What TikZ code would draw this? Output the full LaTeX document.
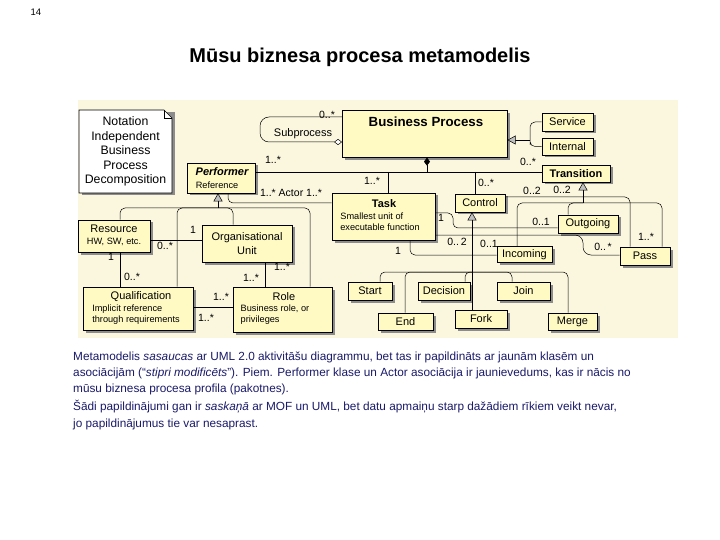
\documentclass[tikz,border=0pt]{standalone}
\usepackage{fontspec}
\setmainfont{Liberation Sans}
\usetikzlibrary{shadows,arrows.meta,calc}
\definecolor{bg}{HTML}{FBF7DF}
\definecolor{boxf}{HTML}{FFFAC4}
\definecolor{txtb}{HTML}{1A1A6A}
\tikzset{
  box/.style={draw=black,fill=boxf,line width=0.6pt,inner sep=0pt,font=\fontsize{11}{12}\selectfont,
     drop shadow={shadow xshift=2.5pt,shadow yshift=-2.5pt,fill=black!45,opacity=1},align=center},
  ln/.style={line width=0.5pt,rounded corners=5pt},
  lb/.style={font=\fontsize{10.5}{12}\selectfont,inner sep=0pt},
  sm/.style={font=\fontsize{9.2}{11}\selectfont,align=left},
  gen/.style={-{Triangle[open,fill=black!25,length=8pt,width=9pt]}},
}
\begin{document}
\begin{tikzpicture}[x=1pt,y=-1pt]
\useasboundingbox (0,0) rectangle (720,540);
\fill[white] (0,0) rectangle (720,540);
\node[font=\fontsize{9.5}{10}\selectfont] (pg) at (36,12) {14};
\node[font=\bfseries\fontsize{20}{22}\selectfont] (title) at (360,57) {Mūsu biznesa procesa metamodelis};
\fill[bg] (78,100) rectangle (678,338);
% note
\fill[black!45] (81.5,112.5) -- (174.5,112.5) -- (174.5,195.5) -- (81.5,195.5) -- cycle;
\filldraw[fill=white,draw=black,line width=0.6pt] (79,110) -- (164,110) -- (172,118) -- (172,193) -- (79,193) -- cycle;
\draw[line width=0.5pt] (164,110) -- (164,118) -- (172,118);
\node[font=\fontsize{12.3}{14.5}\selectfont,align=center] (note) at (125.5,151.5) {Notation\\Independent\\Business\\Process\\Decomposition};
% boxes
\node[box,minimum width=165pt,minimum height=47pt,anchor=north west] (bp) at (342,110) {};
\node[font=\bfseries\fontsize{13.3}{14}\selectfont] at (426,122) {Business Process};
\node[box,minimum width=51pt,minimum height=18pt] (serv) at (567.5,122) {Service};
\node[box,minimum width=51pt,minimum height=17pt] (int) at (567.5,146.5) {Internal};
\node[box,minimum width=68pt,minimum height=17pt,font=\bfseries\fontsize{11}{12}\selectfont] (trans) at (576,173.5) {Transition};
\node[box,minimum width=68pt,minimum height=30pt] (perf) at (221,178) {};
\node[font=\bfseries\itshape\fontsize{11}{12}\selectfont] at (222,172) {Performer};
\node[font=\fontsize{9.2}{11}\selectfont] at (217,185) {Reference};
\node[box,minimum width=103pt,minimum height=47pt] (task) at (383.5,216.5) {};
\node[font=\bfseries\fontsize{11}{12}\selectfont] at (384,204) {Task};
\node[sm] at (380,222) {Smallest unit of\\executable function};
\node[box,minimum width=50pt,minimum height=18pt] (ctrl) at (480,203) {Control};
\node[box,minimum width=60pt,minimum height=18pt] (out) at (588,224) {Outgoing};
\node[box,minimum width=55pt,minimum height=16pt] (inc) at (524.5,254.5) {Incoming};
\node[box,minimum width=50pt,minimum height=18pt] (pass) at (645,256) {Pass};
\node[box,minimum width=44pt,minimum height=18pt] (start) at (370,291) {Start};
\node[box,minimum width=52pt,minimum height=18pt] (dec) at (444,291) {Decision};
\node[box,minimum width=53pt,minimum height=18pt] (join) at (523.5,291) {Join};
\node[box,minimum width=55pt,minimum height=17pt] (end) at (405.5,321.5) {End};
\node[box,minimum width=52pt,minimum height=18pt] (fork) at (481,319) {Fork};
\node[box,minimum width=49pt,minimum height=17pt] (merge) at (572.5,321.5) {Merge};
\node[box,minimum width=72pt,minimum height=32pt] (res) at (114,236) {};
\node[font=\fontsize{11}{12}\selectfont] at (114,229) {Resource};
\node[font=\fontsize{9.2}{11}\selectfont] at (114,242) {HW, SW, etc.};
\node[box,minimum width=90pt,minimum height=37pt,font=\fontsize{11}{14}\selectfont] (org) at (247,243.5) {Organisational\\Unit};
\node[box,minimum width=110pt,minimum height=43pt] (qual) at (138,308.5) {};
\node[font=\fontsize{11}{12}\selectfont] at (141,297) {Qualification};
\node[sm] at (136,315) {Implicit reference\\through requirements};
\node[box,minimum width=99pt,minimum height=45pt] (role) at (282.5,309.5) {};
\node[font=\fontsize{11}{12}\selectfont] at (284,297) {Role};
\node[sm] at (275,315) {Business role, or\\privileges};
% subprocess loop
\coordinate (sp1) at (342,117);
\draw[ln,rounded corners=9pt,-{Diamond[open,fill=white,length=8pt,width=6pt]}] (sp1) -- (260,117) -- (260,142) -- (342,142);
\node[lb] at (327,115) {0..*};
\node[font=\fontsize{11}{12}\selectfont,inner sep=1pt] (subp) at (303,134) {Subprocess};
% generalisation of BP
\coordinate (bpg) at (530,140);
\draw[ln] (serv.west) -| (bpg) |- (int.west);
\draw[ln,gen] (bpg) -- (bp.east|-bpg);
% composition
\coordinate (cd) at (427,172);
\draw[ln,-{Diamond[fill=black,length=8pt,width=6pt]}] (cd) -- (bp.south-|cd);
\draw[ln] (perf.east|-cd) -- (trans.west|-cd);
\draw[ln] (388,172) -- (task.north-|388,0);
\draw[ln] (475,172) -- (ctrl.north-|475,0);
\node[lb] at (273,160) {1..*};
\node[lb] at (372,181) {1..*};
\node[lb] at (486,183) {0..*};
\node[lb] at (528,162) {0..*};
\node[lb] at (532,191) {0..2};
% actor
\draw[ln] (perf.south-|228,0) |- (task.west|-0,203);
\node[lb] at (291,193) {1..* Actor 1..*};
% performer generalization
\coordinate (pg0) at (218,208);
\draw[ln] (res.north-|120,0) |- (pg0) -| (role.north-|310,0);
\draw[ln] (qual.north-|177,0) |- (pg0);
\draw[ln] (org.north-|233,0) |- (pg0);
\draw[ln,gen] (pg0) -- (perf.south-|pg0);
% resource-org
\draw[ln] (res.east|-0,240) -- (org.west|-0,240);
\node[lb] at (193,230) {1};
\node[lb] at (165,246) {0..*};
\draw[ln] (res.south-|120,0) -- (qual.north-|120,0);
\node[lb] at (111,257) {1};
\node[lb] at (132,277) {0..*};
\draw[ln] (org.south-|265,0) -- (role.north-|265,0);
\node[lb] at (282,267) {1..*};
\node[lb] at (251,278) {1..*};
\draw[ln] (qual.east|-0,307) -- (role.west|-0,307);
\node[lb] at (221,297) {1..*};
\node[lb] at (206,318) {1..*};
% transition generalization
\coordinate (tg) at (583,203);
\draw[ln] (inc.north-|517,0) |- (tg) -| (pass.north-|662,0);
\draw[ln] (out.north-|568,0) |- (tg);
\draw[ln,gen] (tg) -- (trans.south-|tg);
% control-pass
\draw[ln] (ctrl.east|-0,197) -| (pass.north-|630,0);
\node[lb] at (562,190) {0..2};
\node[lb] at (646,237) {1..*};
% task-outgoing
\draw[ln] (task.east|-0,213) -| (453,228) -- (out.west|-0,228);
\node[lb] at (441,218) {1};
\node[lb] at (541,222) {0..1};
% task-pass
\draw[ln,rounded corners=8pt] (task.east|-0,235) -| (583,255) -- (pass.west|-0,255);
\node[lb] at (603,247) {0..\,*};
% task-incoming
\draw[ln] (task.south-|410,0) |- (inc.west|-0,255);
\node[lb] at (398,251) {1};
\node[lb] at (457,242) {0..\,2};
\node[lb] at (489,244) {0..1};
% control generalization
\coordinate (cg) at (472,272);
\draw[ln] (start.north-|380,0) |- (cg) -| (merge.north-|568,0);
\draw[ln] (end.north-|405,0) |- (cg);
\draw[ln] (dec.north-|465,0) |- (cg);
\draw[ln] (join.north-|512,0) |- (cg);
\draw[ln] (fork.north-|472,0) -- (cg);
\draw[ln,gen] (cg) -- (ctrl.south-|cg);
% caption
\begin{scope}[every node/.style={anchor=west,text=txtb,font=\fontsize{11.8}{13}\selectfont,inner sep=0pt}]
\node (c1) at (73,357) {Metamodelis \textit{sasaucas} ar UML 2.0 aktivitāšu diagrammu, bet tas ir papildināts ar jaunām klasēm un};
\node (c2) at (73,373) {asociācijām (“\textit{stipri modificēts}”). Piem. Performer klase un Actor asociācija ir jaunievedums, kas ir nācis no};
\node (c3) at (73,389) {mūsu biznesa procesa profila (pakotnes).};
\node (c4) at (73,407) {Šādi papildinājumi gan ir \textit{saskaņā} ar MOF un UML, bet datu apmaiņu starp dažādiem rīkiem veikt nevar,};
\node (c5) at (73,424) {jo papildinājumus tie var nesaprast.};
\end{scope}
\end{tikzpicture}
\end{document}
